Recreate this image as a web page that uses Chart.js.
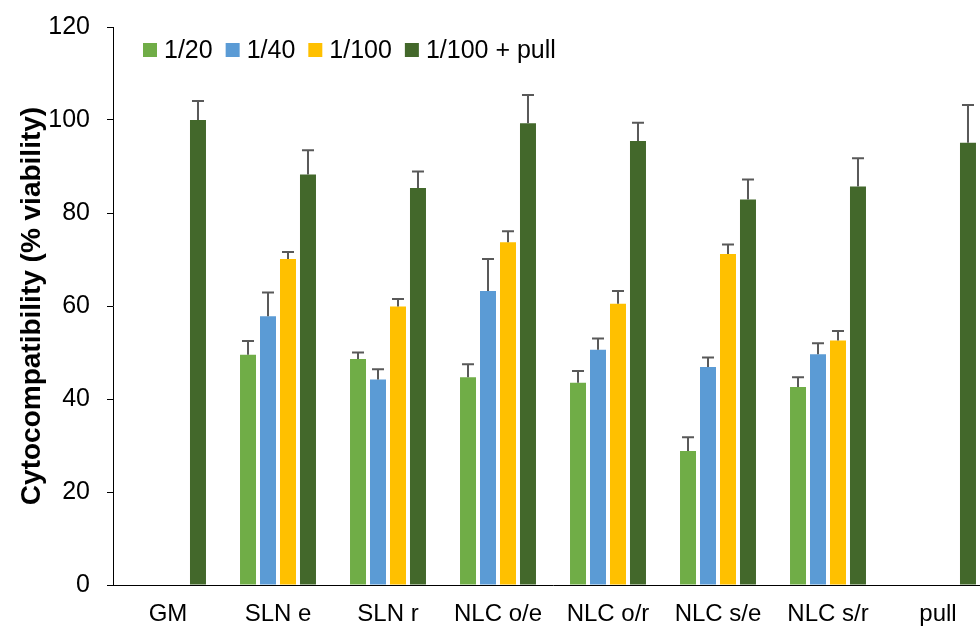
<!DOCTYPE html>
<html>
<head>
<meta charset="utf-8">
<script src="https://cdn.jsdelivr.net/npm/chart.js@4"></script>
<style>
  html, body { margin: 0; padding: 0; background: #fff; overflow: hidden; }
  #wrap { width: 1000px; height: 627px; }
</style>
</head>
<body>
<div id="wrap"><canvas id="myChart" width="1000" height="627"></canvas></div>
<script>
const categories = ['GM', 'SLN e', 'SLN r', 'NLC o/e', 'NLC o/r', 'NLC s/e', 'NLC s/r', 'pull'];
const seriesNames = ['1/20', '1/40', '1/100', '1/100 + pull'];

const v20 = [null, 49.5, 48.6, 44.7, 43.5, 28.8, 42.6, null];
const v40 = [null, 57.8, 44.2, 63.2, 50.6, 46.9, 49.6, null];
const v100 = [null, 70.1, 59.9, 73.7, 60.5, 71.2, 52.6, null];
const v100pull = [100.0, 88.3, 85.4, 99.3, 95.5, 82.9, 85.7, 95.1];

const e20 = [null, 3.0, 1.4, 2.8, 2.5, 3.0, 2.1, null];
const e40 = [null, 5.1, 2.2, 6.9, 2.4, 2.0, 2.4, null];
const e100 = [null, 1.5, 1.6, 2.4, 2.7, 2.0, 2.0, null];
const e100pull = [4.1, 5.2, 3.5, 6.1, 3.9, 4.3, 6.1, 8.1];

const yTicks = [0, 20, 40, 60, 80, 100, 120];

const colors = ['#70AD47', '#5B9BD5', '#FFC000', '#43682B'];
const FONT = 'Liberation Sans, Arial, sans-serif';

const values = [v20, v40, v100, v100pull];
const errors = [e20, e40, e100, e100pull];

// one-sided (plus) error bars on top of each bar
const errorBars = {
    id: 'errorBars',
    afterDatasetsDraw(chart) {
        const ctx = chart.ctx;
        const y = chart.scales.y;
        ctx.save();
        ctx.strokeStyle = '#595959';
        ctx.lineWidth = 2;
        chart.data.datasets.forEach((ds, i) => {
            const meta = chart.getDatasetMeta(i);
            meta.data.forEach((bar, j) => {
                const v = ds.data[j];
                const e = ds.errors[j];
                if (v == null || e == null) return;
                const top = y.getPixelForValue(v + e);
                const base = y.getPixelForValue(v);
                ctx.beginPath();
                ctx.moveTo(bar.x, base);
                ctx.lineTo(bar.x, top);
                ctx.moveTo(bar.x - 6, top);
                ctx.lineTo(bar.x + 6, top);
                ctx.stroke();
            });
        });
        ctx.restore();
    }
};

// legend drawn inside the plot, top left
const insideLegend = {
    id: 'insideLegend',
    afterDraw(chart) {
        const ctx = chart.ctx;
        const area = chart.chartArea;
        let x = area.left + 30;
        const cy = area.top + 23;
        ctx.save();
        ctx.font = '25px ' + FONT;
        ctx.textBaseline = 'middle';
        chart.data.datasets.forEach(ds => {
            ctx.fillStyle = ds.backgroundColor;
            ctx.fillRect(x, cy - 7, 14, 14);
            x += 21;
            ctx.fillStyle = '#000';
            ctx.fillText(ds.label, x, cy + 1);
            x += ctx.measureText(ds.label).width + 13;
        });
        ctx.restore();
    }
};

const config = {
    type: 'bar',
    data: {
        labels: categories,
        datasets: seriesNames.map((name, i) => ({
            label: name,
            data: values[i],
            errors: errors[i],
            backgroundColor: colors[i],
            categoryPercentage: 0.727,
            barPercentage: 0.8
        }))
    },
    options: {
        responsive: false,
        animation: false,
        layout: { padding: { left: 0, right: 7, top: 20, bottom: 0 } },
        plugins: {
            legend: { display: false },
            tooltip: { enabled: false }
        },
        scales: {
            x: {
                grid: { display: false },
                border: { display: true, color: '#000', width: 1 },
                ticks: {
                    color: '#000',
                    padding: 7,
                    font: { size: 24, family: FONT },
                    maxRotation: 0,
                    autoSkip: false
                },
                afterFit(scale) { scale.height = 42; }
            },
            y: {
                min: 0,
                max: 120,
                afterBuildTicks(scale) { scale.ticks = yTicks.map(v => ({ value: v })); },
                grid: {
                    display: true,
                    drawOnChartArea: false,
                    drawTicks: true,
                    tickLength: 6,
                    color: '#000'
                },
                border: { display: true, color: '#000', width: 1 },
                ticks: {
                    color: '#000',
                    padding: 17,
                    font: { size: 25, lineHeight: 0.8, family: FONT }
                },
                title: {
                    display: true,
                    text: 'Cytocompatibility (% viability)',
                    color: '#000',
                    font: { size: 28, weight: 'bold', family: FONT },
                    padding: { top: 15, bottom: 0 }
                },
                afterFit(scale) { scale.width = 113; }
            }
        }
    },
    plugins: [errorBars, insideLegend]
};

const myChart = new Chart(document.getElementById('myChart'), config);
</script>
</body>
</html>
